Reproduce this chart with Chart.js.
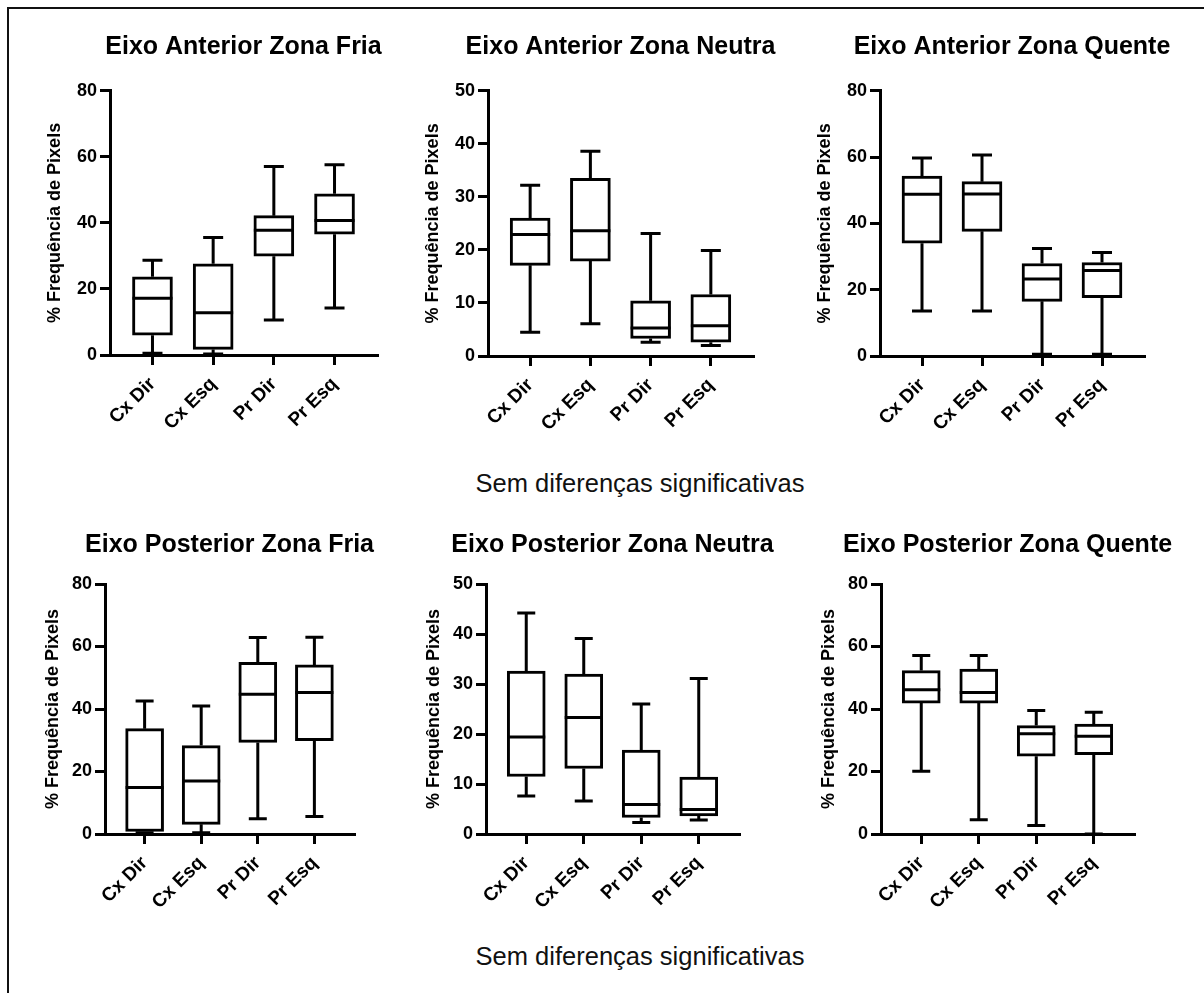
<!DOCTYPE html>
<html lang="pt">
<head>
<meta charset="utf-8">
<title>Frequência de Pixels</title>
<script src="https://cdn.jsdelivr.net/npm/chart.js@4.4.1/dist/chart.umd.min.js"></script>
<style>
  html, body { margin: 0; padding: 0; background: #fff; overflow: hidden; }
  body { width: 1204px; height: 993px; position: relative; }
  #moldura { position: absolute; left: 7px; top: 7px; width: 1300px; height: 1100px; border: 2px solid #111; }
  canvas { position: absolute; }
  .nota { position: absolute; left: 0; width: 1280px; text-align: center; font: 25.5px 'Liberation Sans', Arial, sans-serif; color: #111; line-height: 30px; }
</style>
</head>
<body>
<div id="moldura"></div>
<div class="nota" style="top:468px">Sem diferenças significativas</div>
<div class="nota" style="top:941px">Sem diferenças significativas</div>
<script>
const categorias = ['Cx Dir', 'Cx Esq', 'Pr Dir', 'Pr Esq']
const titulos = [
  'Eixo Anterior Zona Fria', 'Eixo Anterior Zona Neutra', 'Eixo Anterior Zona Quente',
  'Eixo Posterior Zona Fria', 'Eixo Posterior Zona Neutra', 'Eixo Posterior Zona Quente'
]
const yMax = [80, 50, 80, 80, 50, 80]
const yPasso = [20, 10, 20, 20, 10, 20]

// cada caixa: [mínimo, Q1, mediana, Q3, máximo]
const antFria = [[0.5, 6.0, 17.2, 23.7, 28.7], [0.3, 1.7, 12.8, 27.6, 35.6], [10.6, 29.9, 37.8, 42.2, 57.1], [14.2, 36.6, 40.7, 48.8, 57.6]]
const antNeutra = [[4.5, 17.1, 22.9, 26.0, 32.2], [6.1, 17.9, 23.6, 33.5, 38.6], [2.6, 3.3, 5.3, 10.4, 23.1], [2.0, 2.6, 5.7, 11.6, 19.9]]
const antQuente = [[13.6, 34.0, 48.8, 54.3, 59.7], [13.6, 37.6, 48.9, 52.6, 60.6], [0.5, 16.5, 23.2, 27.9, 32.4], [0.5, 17.6, 25.8, 28.2, 31.2]]
const postFria = [[0.4, 0.8, 14.9, 33.7, 42.6], [0.4, 3.1, 17.0, 28.3, 41.0], [4.9, 29.3, 44.7, 54.9, 62.9], [5.6, 29.9, 45.3, 54.1, 63.0]]
const postNeutra = [[7.6, 11.5, 19.4, 32.6, 44.2], [6.6, 13.1, 23.3, 32.0, 39.1], [2.3, 3.3, 5.9, 16.8, 26.0], [2.8, 3.6, 4.9, 11.4, 31.1]]
const postQuente = [[20.1, 41.9, 46.2, 52.3, 57.1], [4.6, 41.9, 45.3, 52.8, 57.1], [2.7, 24.9, 32.1, 34.7, 39.5], [0.0, 25.4, 31.3, 35.2, 39.0]]

const paineis = [antFria, antNeutra, antQuente, postFria, postNeutra, postQuente]

// posicao de cada canvas na pagina
const posicoes = [
  { x: 20, y: 10, w: 447, h: 435, tt: 23, tb: 29, yt: 25, barra: 40, cap: 20 },
  { x: 398, y: 10, w: 445, h: 436, tt: 23, tb: 29, yt: 25, barra: 40, cap: 20 },
  { x: 790, y: 10, w: 444, h: 436, tt: 23, tb: 29, yt: 25, barra: 40, cap: 20 },
  { x: 15, y: 505, w: 429, h: 419, tt: 25.6, tb: 24.6, yt: 28, barra: 38, cap: 18 },
  { x: 396, y: 505, w: 433, h: 419, tt: 25.6, tb: 24.6, yt: 28, barra: 38, cap: 18 },
  { x: 791, y: 505, w: 433, h: 419, tt: 25.6, tb: 24.6, yt: 28, barra: 38, cap: 18 }
]

Chart.defaults.font.family = "'Liberation Sans', Arial, sans-serif"
Chart.defaults.color = '#000'

// bigodes e mediana desenhados por cima das caixas
const bigodes = {
  id: 'bigodes',
  afterDatasetsDraw(chart, args, opts) {
    const { ctx, scales: { x, y } } = chart
    const caixas = chart.data.datasets[0].caixas
    ctx.save()
    ctx.strokeStyle = '#000'
    ctx.lineWidth = 3
    caixas.forEach((c, i) => {
      const [mn, q1, med, q3, mx] = c
      const cx = x.getPixelForValue(i + 1)
      const meia = opts.largura / 2
      const cap = opts.cap / 2
      ctx.beginPath()
      ctx.moveTo(cx, y.getPixelForValue(mx))
      ctx.lineTo(cx, y.getPixelForValue(q3))
      ctx.moveTo(cx, y.getPixelForValue(q1))
      ctx.lineTo(cx, y.getPixelForValue(mn))
      ctx.moveTo(cx - cap, y.getPixelForValue(mx))
      ctx.lineTo(cx + cap, y.getPixelForValue(mx))
      ctx.moveTo(cx - cap, y.getPixelForValue(mn))
      ctx.lineTo(cx + cap, y.getPixelForValue(mn))
      ctx.moveTo(cx - meia, y.getPixelForValue(med))
      ctx.lineTo(cx + meia, y.getPixelForValue(med))
      ctx.stroke()
    })
    ctx.restore()
  }
}

paineis.forEach((caixas, n) => {
  const p = posicoes[n]
  const canvas = document.createElement('canvas')
  canvas.width = p.w
  canvas.height = p.h
  canvas.style.left = p.x + 'px'
  canvas.style.top = p.y + 'px'
  document.body.appendChild(canvas)

  new Chart(canvas, {
    type: 'bar',
    data: {
      datasets: [{
        data: caixas.map((c, i) => ({ x: i + 1, y: [c[1], c[3]] })),
        caixas: caixas,
        backgroundColor: '#fff',
        borderColor: '#000',
        borderWidth: 3,
        borderSkipped: false,
        barThickness: p.barra
      }]
    },
    plugins: [bigodes],
    options: {
      responsive: false,
      animation: false,
      layout: { padding: 0 },
      plugins: {
        legend: { display: false },
        tooltip: { enabled: false },
        title: {
          display: true,
          text: titulos[n],
          color: '#000',
          font: { size: 25, weight: 'bold' },
          padding: { top: p.tt - 0.6, bottom: p.tb - 0.6 }
        },
        bigodes: { largura: p.barra, cap: p.cap }
      },
      scales: {
        x: {
          type: 'linear',
          min: 0.3,
          max: 4.7,
          offset: false,
          afterBuildTicks: s => { s.ticks = [1, 2, 3, 4].map(v => ({ value: v })) },
          afterFit: s => { s.height = 90 },
          ticks: {
            callback: v => categorias[v - 1],
            font: { size: 19, weight: 'bold' },
            color: '#000',
            autoSkip: false,
            minRotation: 45,
            maxRotation: 45,
            padding: 8
          },
          grid: { offset: false, drawOnChartArea: false, drawTicks: true, tickLength: 10, lineWidth: 3, tickWidth: 3, tickColor: '#000', color: '#000' },
          border: { display: true, color: '#000', width: 3 }
        },
        y: {
          min: 0,
          max: yMax[n],
          afterFit: s => { s.width = 90 },
          ticks: {
            stepSize: yPasso[n],
            font: { size: 18, weight: 'bold' },
            color: '#000',
            padding: 3
          },
          grid: { drawOnChartArea: false, drawTicks: true, tickLength: 10, lineWidth: 3, tickWidth: 3, tickColor: '#000', color: '#000' },
          border: { display: true, color: '#000', width: 3 },
          title: {
            display: true,
            text: '% Frequência de Pixels',
            color: '#000',
            font: { size: 18, weight: 'bold' },
            padding: { top: p.yt - 0.6, bottom: 0 }
          }
        },
        // eixo vazio a direita, so para centrar o titulo sobre a area do grafico
        margem: {
          type: 'linear',
          position: 'right',
          display: true,
          afterFit: s => { s.width = 90 },
          ticks: { display: false },
          grid: { display: false },
          border: { display: false }
        }
      }
    }
  })
})
</script>
</body>
</html>
